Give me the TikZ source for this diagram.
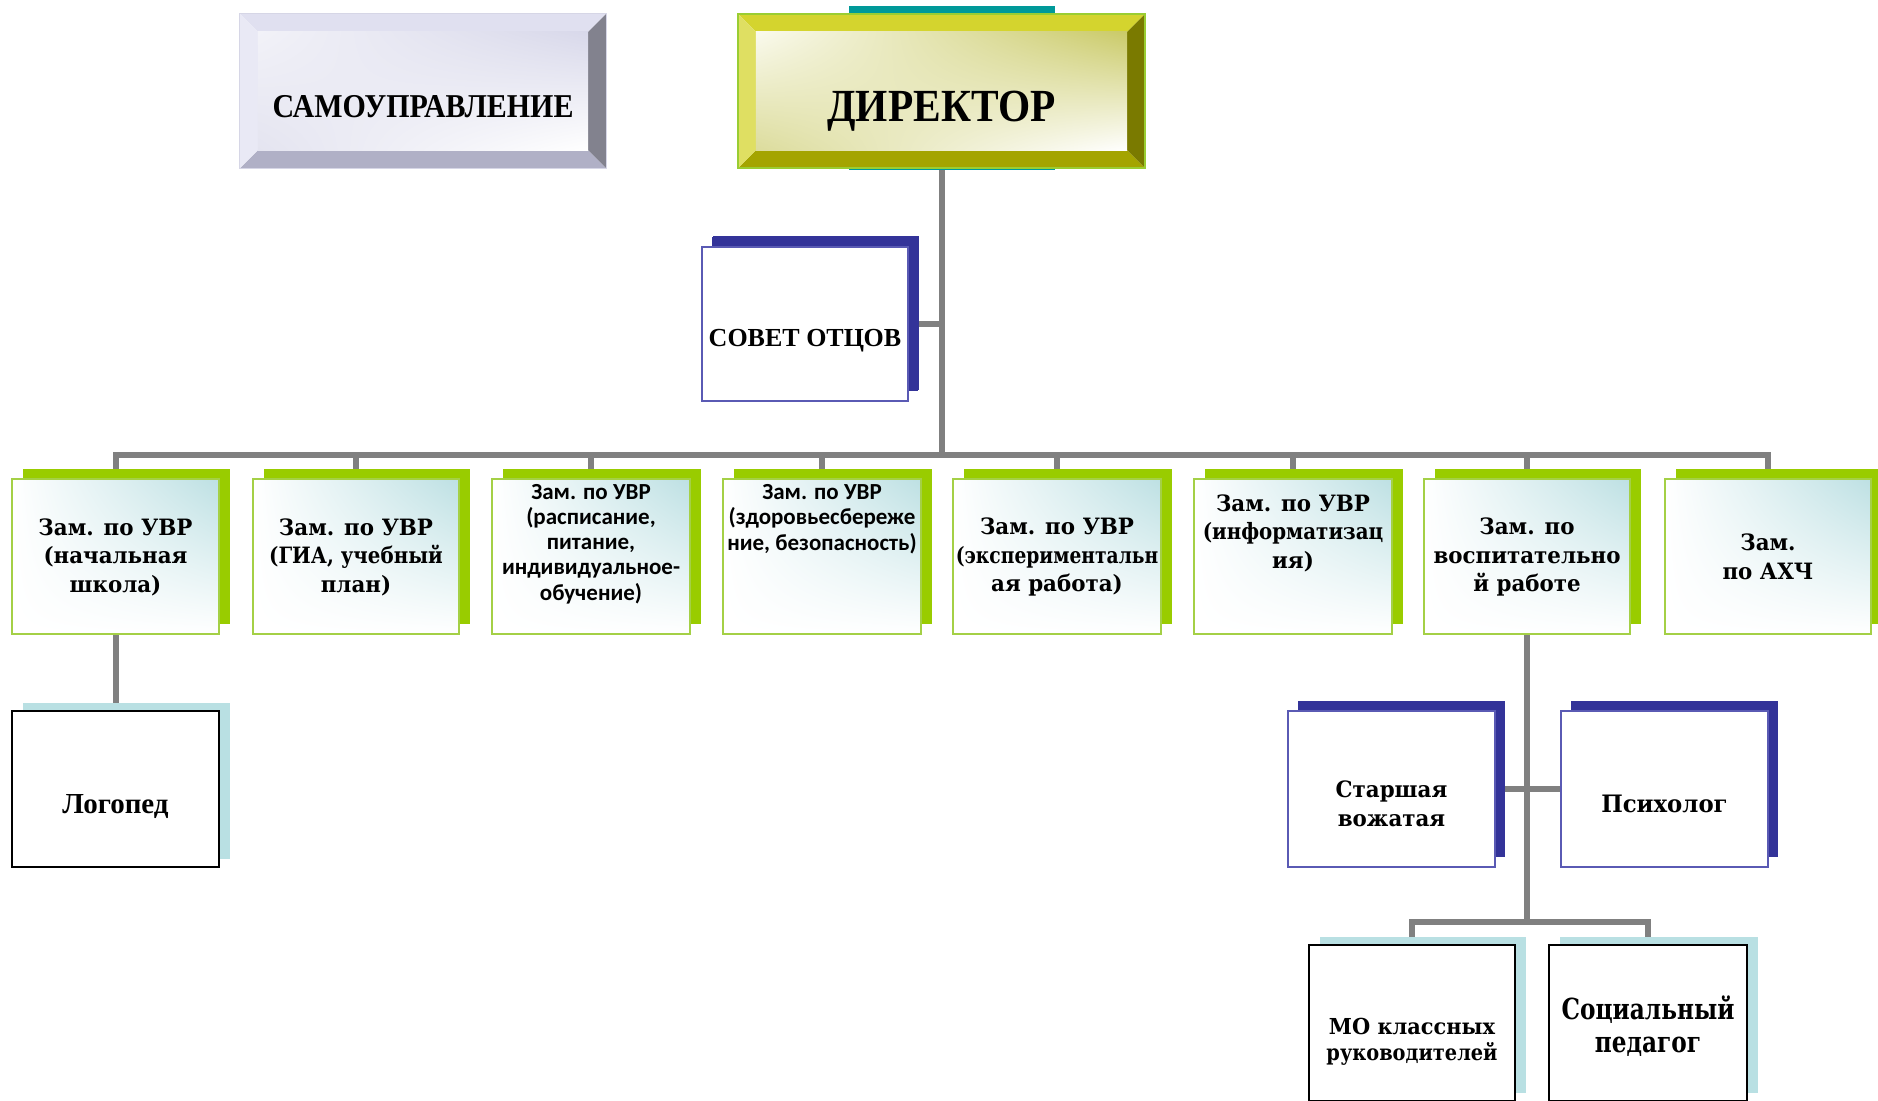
\documentclass[tikz,border=0pt]{standalone}
\usepackage{fontspec}
\setmainfont{Liberation Serif}
\newfontfamily\tnr{Liberation Serif}
\newfontfamily\tnrc[FakeStretch=0.9]{Liberation Serif}
\newfontfamily\cmb[FakeStretch=0.95]{DejaVu Serif}
\newfontfamily\cmbn[FakeStretch=0.83]{DejaVu Serif}
\newfontfamily\cmbm[FakeStretch=0.88]{DejaVu Serif}
\newfontfamily\cmbc[FakeStretch=0.8]{DejaVu Serif}
\newfontfamily\clb{Carlito}
\usetikzlibrary{calc,shadows,shadings}
\pgfdeclarelayer{bg}
\pgfsetlayers{bg,main}
\definecolor{connGray}{HTML}{808080}
\definecolor{rowGreen}{HTML}{99CC00}
\definecolor{rowEdge}{HTML}{A4D046}
\definecolor{tealTint}{HTML}{BDE0E3}
\definecolor{navy}{HTML}{333399}
\definecolor{navyEdge}{HTML}{5A5AB4}
\definecolor{lightBlue}{HTML}{B9E0E3}
\definecolor{dirTeal}{HTML}{009999}
\definecolor{dTop}{HTML}{D4D42E}
\definecolor{dLeft}{HTML}{DFDF62}
\definecolor{dRight}{HTML}{7A7A00}
\definecolor{dBottom}{HTML}{A4A400}
\definecolor{dEdge}{HTML}{9ACD32}
\definecolor{dUR}{HTML}{CACA68}
\definecolor{dLL}{HTML}{DCDC9C}
\definecolor{dUL}{HTML}{FAFAEE}
\definecolor{sTop}{HTML}{E0E0F0}
\definecolor{sLeft}{HTML}{E9E9F5}
\definecolor{sRight}{HTML}{82828E}
\definecolor{sBottom}{HTML}{B0B0C6}
\definecolor{sEdge}{HTML}{D6D6E6}
\definecolor{sUR}{HTML}{D8D8EA}
\definecolor{sLL}{HTML}{E4E4F0}
\definecolor{sUL}{HTML}{F2F2F8}
\tikzset{
  conn/.style={draw=connGray, line width=6pt},
  rowbox/.style={draw=rowEdge, line width=1.5pt, minimum height=155pt,
    minimum width=#1, inner sep=0pt, shading=bilinear interpolation, upper left=white,
    upper right=tealTint, lower left=white, lower right=white,
    general shadow={fill=rowGreen, draw=none, shadow xshift=11pt, shadow yshift=10pt}},
  navybox/.style={draw=navyEdge, line width=1.5pt, fill=white, minimum height=156pt,
    minimum width=#1, inner sep=0pt,
    general shadow={fill=navy, draw=none, shadow xshift=10pt, shadow yshift=10pt}},
  bluebox/.style={draw=black, line width=2pt, fill=white, minimum height=156pt,
    minimum width=#1, inner sep=0pt,
    general shadow={fill=lightBlue, draw=none, shadow xshift=11pt, shadow yshift=8pt}},
  cmbtext/.style={font={\cmb\bfseries\fontsize{22.5}{28.5}\selectfont}, align=center, inner sep=0pt},
  clbtext/.style={font={\clb\bfseries\fontsize{23}{25.2}\selectfont}, align=center, inner sep=0pt},
  tnrtext/.style={font={\tnr\bfseries\fontsize{#1}{#1}\selectfont}, align=center, inner sep=0pt},
}
\begin{document}
\begin{tikzpicture}[x=1pt,y=-1pt]
\useasboundingbox (0,0) rectangle (1878,1100);
% ---------- SAMOUPRAVLENIE
\node[minimum width=366pt, minimum height=154pt, inner sep=0pt] (sam) at (423,91) {};
\fill[sTop] (sam.north west) -- (sam.north east) -- ($(sam.north east)+(-18,18)$) -- ($(sam.north west)+(18,18)$) -- cycle;
\fill[sBottom] (sam.south west) -- (sam.south east) -- ($(sam.south east)+(-18,-18)$) -- ($(sam.south west)+(18,-18)$) -- cycle;
\fill[sLeft] (sam.north west) -- ($(sam.north west)+(18,18)$) -- ($(sam.south west)+(18,-18)$) -- (sam.south west) -- cycle;
\fill[sRight] (sam.north east) -- ($(sam.north east)+(-18,18)$) -- ($(sam.south east)+(-18,-18)$) -- (sam.south east) -- cycle;
\shade[shading=bilinear interpolation, upper left=sUL, upper right=sUR, lower left=sLL, lower right=white] ($(sam.north west)+(18,18)$) rectangle ($(sam.south east)+(-18,-18)$);
\draw[sEdge, line width=1pt] (sam.north west) rectangle (sam.south east);
\node[font={\tnrc\bfseries\fontsize{33.3}{33.3}\selectfont}, inner sep=0pt] (samt) at (423,107) {САМОУПРАВЛЕНИЕ};
% ---------- DIRECTOR
\fill[dirTeal] (849,6) rectangle (1055,170);
\node[minimum width=407pt, minimum height=154pt, inner sep=0pt] (dir) at (941.5,91) {};
\fill[dTop] (dir.north west) -- (dir.north east) -- ($(dir.north east)+(-18,18)$) -- ($(dir.north west)+(18,18)$) -- cycle;
\fill[dBottom] (dir.south west) -- (dir.south east) -- ($(dir.south east)+(-18,-18)$) -- ($(dir.south west)+(18,-18)$) -- cycle;
\fill[dLeft] (dir.north west) -- ($(dir.north west)+(18,18)$) -- ($(dir.south west)+(18,-18)$) -- (dir.south west) -- cycle;
\fill[dRight] (dir.north east) -- ($(dir.north east)+(-18,18)$) -- ($(dir.south east)+(-18,-18)$) -- (dir.south east) -- cycle;
\shade[shading=bilinear interpolation, upper left=dUL, upper right=dUR, lower left=dLL, lower right=white] ($(dir.north west)+(18,18)$) rectangle ($(dir.south east)+(-18,-18)$);
\draw[dEdge, line width=1.5pt] (dir.north west) rectangle (dir.south east);
\node[font={\tnrc\bfseries\fontsize{46}{46}\selectfont}, inner sep=0pt] (dirt) at (941.5,111) {ДИРЕКТОР};
% ---------- SOVET OTCOV
\node[navybox=206pt, minimum height=154pt, general shadow={fill=navy, draw=none, shadow xshift=11pt, shadow yshift=11pt}] (sov) at (805,324) {};
\node[tnrtext=26] (sovt) at (805,341) {СОВЕТ ОТЦОВ};
% ---------- ROW
\node[rowbox=207pt] (b1) at (115.5,556.5) {};
\node[rowbox=206pt] (b2) at (356,556.5) {};
\node[rowbox=198pt] (b3) at (591,556.5) {};
\node[rowbox=198pt] (b4) at (822,556.5) {};
\node[rowbox=208pt] (b5) at (1057,556.5) {};
\node[rowbox=198pt] (b6) at (1293,556.5) {};
\node[rowbox=206pt] (b7) at (1527,556.5) {};
\node[rowbox=206pt] (b8) at (1768,556.5) {};
\node[cmbtext] (t1) at (115.5,557) {Зам. по УВР\\(начальная\\школа)};
\node[cmbtext] (t2) at (356,557) {Зам. по УВР\\{\cmbm (ГИА, учебный}\\план)};
\node[clbtext] (t3) at (591,544) {Зам. по УВР\\(расписание,\\питание,\\индивидуальное-\\обучение)};
\node[clbtext] (t4) at (822,519) {Зам. по УВР\\(здоровьесбереже\\ние, безопасность)};
\node[cmbtext] (t5) at (1057,557) {Зам. по УВР\\{\cmbn (экспериментальн}\\ая работа)};
\node[cmbtext] (t6) at (1293,533) {Зам. по УВР\\{\cmbm (информатизац}\\ия)};
\node[cmbtext] (t7) at (1527,557) {Зам. по\\воспитательно\\й работе};
\node[cmbtext] (t8) at (1768,557) {Зам.\\по АХЧ};
% ---------- LOWER
\node[bluebox=207pt] (logo) at (115.5,789) {};
\node[tnrtext=29] (logot) at (115.5,807) {Логопед};
\node[navybox=207pt] (st) at (1391.5,789) {};
\node[cmbtext] (stt) at (1391.5,804) {Старшая\\вожатая};
\node[navybox=207pt] (ps) at (1664.5,789) {};
\node[cmbtext, font={\cmb\bfseries\fontsize{24}{28.5}\selectfont}] (pst) at (1664.5,804) {Психолог};
\node[bluebox=206pt] (mo) at (1412,1023) {};
\node[font={\cmb\bfseries\fontsize{22}{26.5}\selectfont}, align=center, inner sep=0pt] (mot) at (1412,1042) {МО классных\\{\cmbm руководителей}};
\node[bluebox=198pt] (soc) at (1648,1023) {};
\node[font={\cmbc\bfseries\fontsize{29}{33.5}\selectfont}, align=center, inner sep=0pt] (soct) at (1648,1026) {Социальный\\педагог};
% ---------- CONNECTORS
\coordinate (bus) at (941.5,455);
\coordinate (bus2) at (1527,922);
\begin{pgfonlayer}{bg}
\fill[white] (0,0) rectangle (1878,1100);
\draw[conn] (dir.south) -- (dir.south |- bus);
\draw[conn] (b1.north) -- (b1.north |- bus) -- (b8.north |- bus) -- (b8.north);
\foreach \b in {b2,b3,b4,b5,b6,b7} \draw[conn] (\b.north |- bus) -- (\b.north);
\draw[conn] (sov.east -| dir.south) -- (sov.east);
\draw[conn] (b1.south) -- (logo.north);
\draw[conn] (b7.south) -- (b7.south |- bus2);
\draw[conn] (st.east) -- (ps.west);
\draw[conn] (mo.north) -- (mo.north |- bus2) -- (soc.north |- bus2) -- (soc.north);
\end{pgfonlayer}
\end{tikzpicture}
\end{document}
